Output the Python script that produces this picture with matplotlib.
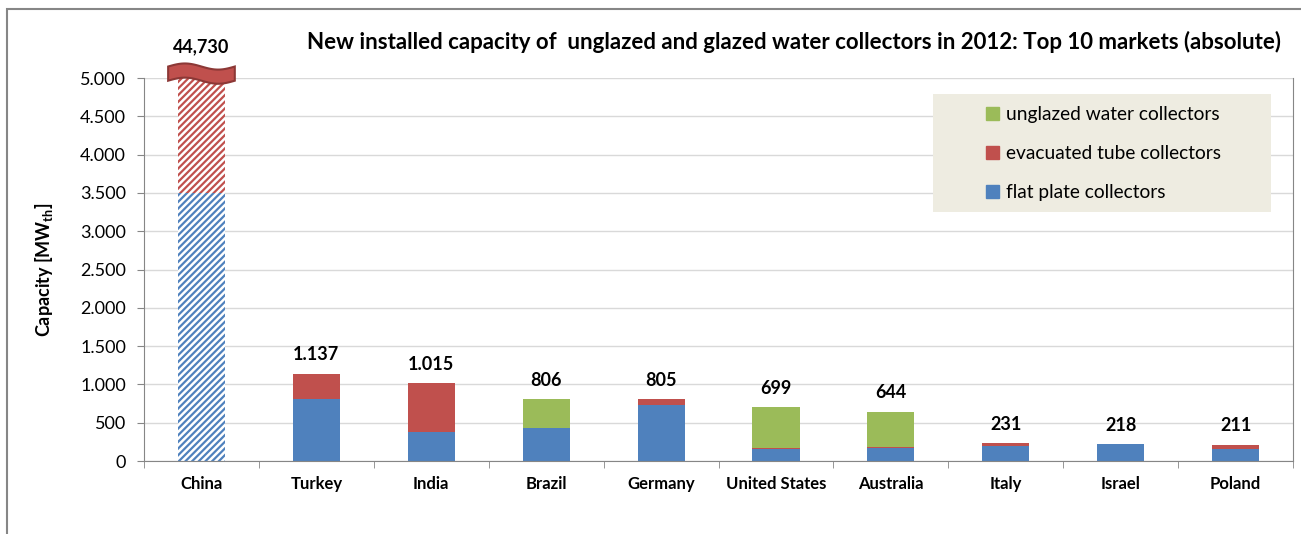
import numpy as np
import matplotlib

matplotlib.use("Agg")
import matplotlib.pyplot as plt  # noqa: E402
from matplotlib.patches import Polygon, Rectangle  # noqa: E402
from matplotlib.transforms import blended_transform_factory  # noqa: E402

plt.rcParams["font.family"] = ["Lato", "DejaVu Sans"]
plt.rcParams["mathtext.fontset"] = "custom"
plt.rcParams["mathtext.rm"] = "Lato"
plt.rcParams["mathtext.bf"] = "Lato:bold"
plt.rcParams["hatch.linewidth"] = 1.6

# data (MW_th)
countries = ["China", "Turkey", "India", "Brazil", "Germany", "United States",
             "Australia", "Italy", "Israel", "Poland"]
flat_plate = [3500, 805, 375, 435, 727, 160, 176, 200, 218, 153]
evacuated = [41230, 332, 640, 0, 78, 4, 7, 31, 0, 58]
unglazed = [0, 0, 0, 371, 0, 535, 461, 0, 0, 0]
y_ticks = [0, 500, 1000, 1500, 2000, 2500, 3000, 3500, 4000, 4500, 5000]
legend_labels = ["unglazed water collectors", "evacuated tube collectors", "flat plate collectors"]

BLUE = "#4F81BD"
RED = "#C0504D"
GREEN = "#9BBB59"
GRAY = "#868686"

fig = plt.figure(figsize=(13.01, 5.34), dpi=100)
ax = fig.add_axes([0.1107, 0.1367, 0.8832, 0.7172])

x = np.arange(len(countries))
w = 0.41
bottom2 = [a + b for a, b in zip(flat_plate, evacuated)]
totals = [a + b + c for a, b, c in zip(flat_plate, evacuated, unglazed)]

# China is off the scale: draw it hatched
for i in range(len(countries)):
    if i == 0:
        ax.bar(x[i], flat_plate[i], w, color="white", edgecolor=BLUE, hatch="/////", linewidth=0)
        ax.bar(x[i], evacuated[i], w, bottom=flat_plate[i], color="white", edgecolor=RED,
               hatch="/////", linewidth=0)
    else:
        ax.bar(x[i], flat_plate[i], w, color=BLUE, linewidth=0)
        ax.bar(x[i], evacuated[i], w, bottom=flat_plate[i], color=RED, linewidth=0)
        ax.bar(x[i], unglazed[i], w, bottom=bottom2[i], color=GREEN, linewidth=0)

ax.set_ylim(0, 5000)
ax.set_xlim(-0.5, len(countries) - 0.5)
trans = blended_transform_factory(ax.transData, ax.transAxes)

# value labels
for i, t in enumerate(totals):
    if i == 0:
        ax.text(x[i], 1.081, f"{t:,}", transform=trans,
                ha="center", va="center", fontsize=13, fontweight="bold")
    else:
        ax.annotate(f"{t:,}".replace(",", "."), (x[i], t), xytext=(0, 19), textcoords="offset pixels",
                    ha="center", va="center", fontsize=13, fontweight="bold")

# axis break symbol on the China bar
xs = np.linspace(-0.29, 0.29, 40)
wave = 0.008 * np.sin((xs + 0.29) / 0.58 * 2 * np.pi)
top = 1.03 + wave
bot = 0.993 + wave
pts = np.column_stack([np.r_[xs, xs[::-1]], np.r_[top, bot[::-1]]])
ax.add_patch(Polygon(pts, closed=True, transform=trans, facecolor=RED, edgecolor="#8C3836",
                     linewidth=1.5, clip_on=False, zorder=5))

# axes styling
ax.set_yticks(y_ticks)
ax.set_yticklabels([f"{v:,}".replace(",", ".") for v in y_ticks], fontsize=13)
ax.yaxis.grid(True, color="#D9D9D9", linewidth=1)
ax.set_axisbelow(True)
ax.set_xticks(x)
ax.set_xticklabels(countries, fontsize=12, fontweight="bold")
ax.tick_params(axis="x", length=0, pad=11)
ax.set_xticks(np.arange(len(countries) + 1) - 0.5, minor=True)
ax.tick_params(axis="x", which="minor", length=5, color=GRAY)
ax.tick_params(axis="y", length=5, color=GRAY, pad=8)
for s in ax.spines.values():
    s.set_color(GRAY)
ax.spines["top"].set_visible(False)

ax.set_ylabel("Capacity [MW$_{\\mathbf{th}}$]", fontsize=13, fontweight="bold", labelpad=18)

fig.text(0.610, 0.921, "New installed capacity of  unglazed and glazed water collectors in 2012: "
         "Top 10 markets (absolute)", ha="center", va="center", fontsize=16, fontweight="bold")

# legend on a beige panel
ax.add_patch(Rectangle((0.6867, 0.650), 0.2942, 0.308, transform=ax.transAxes,
                       facecolor="#EEECE1", edgecolor="none", zorder=4))
handles = [Rectangle((0, 0), 1, 1, color=c) for c in (GREEN, RED, BLUE)]
leg = ax.legend(handles, legend_labels, loc="center left", bbox_to_anchor=(0.7328, 0.803),
                fontsize=13.8, frameon=False, handlelength=0.7, handleheight=0.7,
                handletextpad=0.35, labelspacing=1.15, borderpad=0, borderaxespad=0)
leg.set_zorder(6)

# outer chart border
fig.patches.append(Rectangle((7 / 1301, -0.1), 1.2, (534 - 9) / 534 + 0.1,
                             transform=fig.transFigure, fill=False, edgecolor=GRAY, linewidth=1.5))

fig.savefig("out.png", dpi=100)
